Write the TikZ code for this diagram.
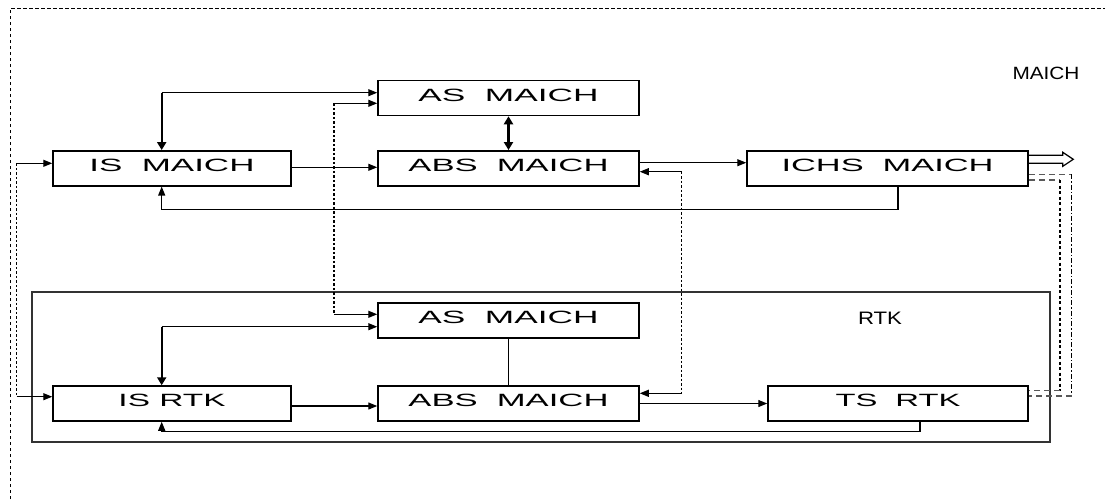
\documentclass[tikz,border=0pt]{standalone}
\usepackage{fontspec}
\setmainfont{Liberation Sans}
\usetikzlibrary{arrows.meta}
\newcommand\btxt[2]{\resizebox{#1pt}{12.4pt}{#2}}
\tikzset{
  blk/.style={draw, line width=1.5pt, minimum height=35pt, inner sep=0pt,
    text height=12.4pt, text depth=6pt},
  arr/.style={line width=1.2pt, -{Triangle[length=9pt,width=7pt]}},
  tharr/.style={line width=2.4pt, -{Triangle[length=8pt,width=9pt]}},
  dotln/.style={line width=1.5pt, dash pattern=on 2.5pt off 2pt},
  gdash/.style={line width=1.3pt, draw=black!65, dash pattern=on 6pt off 4pt},
  ddot/.style={line width=1.4pt, dash pattern=on 5pt off 2pt on 1.5pt off 2pt},
  idash/.style={line width=1.5pt, dash pattern=on 3pt off 2.5pt}
}
\begin{document}
\begin{tikzpicture}[x=1pt,y=-1pt]
\useasboundingbox (0,0) rectangle (1105,499);
% outer dashed frame
\draw[line width=1pt, dash pattern=on 3.5pt off 2.5pt] (10,499) -- (10,8) -- (1105,8);
\node[inner sep=0pt] (lblM) at (1046,73) {\resizebox{67pt}{12.4pt}{MAICH}};
% RTK frame
\node[draw=black!80, line width=1.4pt, minimum width=1018pt, minimum height=150pt, inner sep=0pt] (rtk) at (541,367) {};
\node[inner sep=0pt] (lblR) at (880,318) {\resizebox{44pt}{12.4pt}{RTK}};
% boxes
\node[blk, minimum width=261pt] (asT) at (508.5,98) {\btxt{180}{AS\hspace{0.55em}MAICH}};
\node[blk, minimum width=261pt] (absT) at (508.5,168.3) {\btxt{200}{ABS\hspace{0.55em}MAICH}};
\node[blk, minimum width=238pt] (isM) at (172,168.3) {\btxt{165}{IS\hspace{0.55em}MAICH}};
\node[blk, minimum width=281pt] (ichs) at (887.5,168.5) {\btxt{212}{ICHS\hspace{0.55em}MAICH}};
\node[blk, minimum width=261pt] (asB) at (508.5,320.5) {\btxt{180}{AS\hspace{0.55em}MAICH}};
\node[blk, minimum width=261pt] (absB) at (508.5,403.5) {\btxt{200}{ABS\hspace{0.55em}MAICH}};
\node[blk, minimum width=238pt] (isR) at (172,403.5) {\btxt{107}{IS RTK}};
\node[blk, minimum width=260pt] (ts) at (898,403.5) {\btxt{125}{TS\hspace{0.55em}RTK}};
% coordinates
\coordinate (e1) at (16.7,163.3);
\coordinate (e2) at (16.7,396.7);
\coordinate (k1) at (161.7,92.7);
\coordinate (k2) at (161.7,326.7);
\coordinate (d1) at (334,103.3);
\coordinate (d2) at (334,314.3);
\coordinate (h1) at (681.7,171.7);
\coordinate (h2) at (681.7,393.3);
\coordinate (f1) at (898,209.3);
\coordinate (f2) at (920,431.7);
\coordinate (r1) at (1071.7,174.3);
\coordinate (r2) at (1071.7,396);
\coordinate (r3) at (1060,180);
\coordinate (r4) at (1060,390.7);
% entry
\draw[dotln] (e1) -- (e2);
\draw[arr] (e1) -- (e1 -| isM.west);
\draw[arr] (e2) -- (e2 -| isR.west);
% top level
\draw[arr] ([yshift=1pt]isM.east) -- ([yshift=1pt]isM.east -| absT.west);
\draw[tharr] (k1) -- (k1 |- isM.north);
\draw[arr] (k1) -- (k1 -| asT.west);
\draw[line width=2.4pt, {Triangle[length=8pt,width=9pt]}-{Triangle[length=8pt,width=9pt]}] (asT.south) -- (absT.north);
\draw[arr] ([yshift=5.6pt]absT.east) -- ([yshift=5.6pt]absT.east -| ichs.west);
\draw[arr] (ichs.south -| f1) -- (f1) -- (k1 |- f1) -- (k1 |- isM.south);
% dotted AS links
\draw[dotln] (d1) -- (d2);
\draw[arr] (d1) -- (d1 -| asT.west);
\draw[arr] (d2) -- (d2 -| asB.west);
% dotted ABS links
\draw[dotln] (h1) -- (h2);
\draw[arr] (h1) -- (h1 -| absT.east);
\draw[arr] (h2) -- (h2 -| absB.east);
% bottom level
\draw[tharr] (k2) -- (k2 |- isR.north);
\draw[arr] (k2) -- (k2 -| asB.west);
\draw[line width=1.2pt] (asB.south) -- (absB.north);
\draw[arr] ([yshift=-2.5pt]isR.east) -- ([yshift=-2.5pt]isR.east -| absB.west);
\draw[arr] (absB.east) -- (absB.east -| ts.west);
\draw[arr] (ts.south -| f2) -- (f2) -- (k2 |- f2) -- (k2 |- isR.south);
% right side links
\draw[gdash] (r1 -| ichs.east) -- (r1);
\draw[ddot] (r1) -- (r2);
\draw[gdash] (r2) -- (r2 -| ts.east);
\draw[gdash] (r3 -| ichs.east) -- (r3);
\draw[idash] (r3) -- (r4);
\draw[gdash] (r4) -- (r4 -| ts.east);
% hollow output arrow
\draw[line width=1.2pt, line join=miter] ([yshift=13.2pt]ichs.east) -- ++(34,0) -- ++(0,-3) -- ++(10.5,7) -- ++(-10.5,7) -- ++(0,-3) -- ++(-34,0);
\end{tikzpicture}
\end{document}
